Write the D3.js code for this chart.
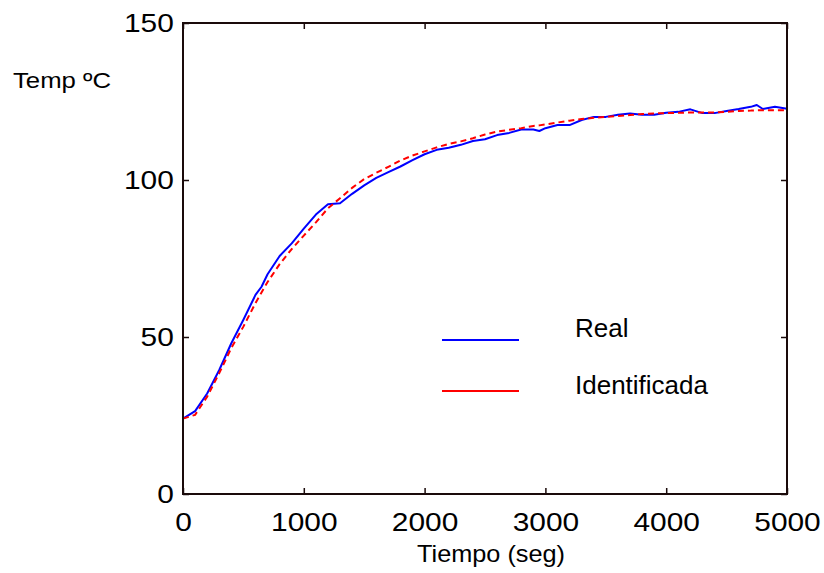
<!DOCTYPE html>
<html>
<head>
<meta charset="utf-8">
<script src="https://cdn.jsdelivr.net/npm/d3@7"></script>
<style>
  body { margin: 0; background: #fff; }
  .chart { width: 824px; height: 573px; }
  text { font-family: "Liberation Sans", Arial, Helvetica, sans-serif; fill: #000; }
</style>
</head>
<body>
<div class="chart"></div>
<script>
//Time samples (seg)
let tiempo = [0, 100, 200, 300, 400, 500, 600, 650, 700, 800, 900, 1000, 1100, 1200, 1300, 1400, 1500,
    1600, 1700, 1800, 1900, 2000, 2100, 2200, 2300, 2400, 2500, 2600, 2700, 2800, 2900, 2950,
    3000, 3100, 3200, 3300, 3400, 3500, 3600, 3700, 3800, 3900, 4000, 4100, 4200, 4300, 4400,
    4500, 4600, 4700, 4750, 4800, 4900, 5000];

//Measured temperature (blue)
let real = [24, 26.4, 32, 39.5, 48, 55.5, 63.4, 66, 70, 75.8, 79.8, 84.5, 89, 92.3, 92.6, 95.6, 98.3,
    100.7, 102.5, 104.3, 106.3, 108.2, 109.6, 110.3, 111.2, 112.4, 113, 114.3, 115, 116.1, 116.1, 115.6,
    116.5, 117.5, 117.5, 119.1, 120.1, 120.1, 120.8, 121.2, 120.8, 120.8, 121.4, 121.7, 122.5, 121.3, 121.3,
    122, 122.6, 123.3, 123.9, 122.6, 123.3, 122.7];

//Identified model response (red dashed)
let identificada = [24, 25.2, 31, 38.5, 46.5, 53.3, 60.8, 64.2, 67.5, 73.2, 78, 82.3, 86.5, 91, 94.2, 97.5, 100.3,
    102.3, 104.2, 106.2, 107.8, 109.1, 110.4, 111.5, 112.3, 113.3, 114.5, 115.4, 116, 116.5, 117.2, 117.4,
    117.7, 118.3, 118.9, 119.4, 119.8, 120.1, 120.4, 120.7, 121, 121.2, 121.3, 121.4, 121.5, 121.5, 121.5,
    121.7, 122, 122.1, 122.2, 122.2, 122.2, 122.2];

let xTicks = [0, 1000, 2000, 3000, 4000, 5000];
let yTicks = [0, 50, 100, 150];
let legendLabels = ["Real", "Identificada"];

let chart = {};

init();

function init() {
    appendElements();
    update();
}

function update() {
    setDimensions();
    setScales();
    updateElements();
}

function setDimensions() {
    chart.margin = { top: 23, right: 37, bottom: 79, left: 183 };
    chart.width = 824 - chart.margin.left - chart.margin.right;
    chart.height = 573 - chart.margin.top - chart.margin.bottom;
}

function setScales() {
    chart.x = d3.scaleLinear().domain([0, 5000]).range([0, chart.width]);
    chart.y = d3.scaleLinear().domain([0, 150]).range([chart.height, 0]);

    chart.line = d3.line()
        .x((d, i) => chart.x(tiempo[i]))
        .y(d => chart.y(d));
}

function appendElements() {
    chart.svg = d3.select(".chart").append("svg");
    chart.plot = chart.svg.append("g");

    chart.xAxis = chart.plot.append("g");
    chart.yAxis = chart.plot.append("g");
    chart.xTop = chart.plot.append("g");
    chart.yRight = chart.plot.append("g");

    chart.realLine = chart.plot.append("path").datum(real)
        .attr("fill", "none")
        .attr("stroke", "#0000ff")
        .attr("stroke-width", 2)
        .attr("stroke-linejoin", "round");

    chart.idLine = chart.plot.append("path").datum(identificada)
        .attr("fill", "none")
        .attr("stroke", "#ff0000")
        .attr("stroke-width", 2)
        .attr("stroke-dasharray", "6,4");

    chart.frame = chart.plot.append("rect")
        .attr("fill", "none")
        .attr("stroke", "#1a0a0a")
        .attr("stroke-width", 2);

    chart.legend = chart.svg.append("g");
    chart.yLabel = chart.svg.append("text").text("Temp ºC");
    chart.xLabel = chart.svg.append("text").text("Tiempo (seg)");
}

function styleAxis(g) {
    g.select(".domain").remove();
    g.selectAll(".tick line").attr("stroke", "#1a0a0a").attr("stroke-width", 1.5);
    g.selectAll("text").attr("font-size", 26)
        .attr("font-family", "'Liberation Sans', Arial, sans-serif")
        .attr("fill", "#000")
        .attr("transform", "scale(1.15,1)");
}

function updateElements() {
    chart.svg.attr("width", 824).attr("height", 573);
    chart.plot.attr("transform", `translate(${chart.margin.left},${chart.margin.top})`);

    let fmt = d3.format("d");

    chart.xAxis.attr("transform", `translate(0,${chart.height})`)
        .call(d3.axisBottom(chart.x).tickValues(xTicks).tickFormat(fmt)
            .tickSize(-6).tickSizeOuter(0).tickPadding(19))
        .call(styleAxis);

    chart.yAxis
        .call(d3.axisLeft(chart.y).tickValues(yTicks).tickFormat(fmt)
            .tickSize(-6).tickSizeOuter(0).tickPadding(8))
        .call(styleAxis);

    chart.xTop
        .call(d3.axisTop(chart.x).tickValues(xTicks).tickSize(-6).tickSizeOuter(0).tickFormat(""))
        .call(styleAxis);

    chart.yRight.attr("transform", `translate(${chart.width},0)`)
        .call(d3.axisRight(chart.y).tickValues(yTicks).tickSize(-6).tickSizeOuter(0).tickFormat(""))
        .call(styleAxis);

    chart.realLine.attr("d", chart.line);
    chart.idLine.attr("d", chart.line);

    chart.frame.attr("x", 0).attr("y", 0)
        .attr("width", chart.width).attr("height", chart.height);

    //legend, lines on the left and labels further right
    let colors = ["#0000ff", "#ff0000"];
    let items = chart.legend.selectAll("g").data(legendLabels).join("g")
        .attr("transform", (d, i) => `translate(442,${340 + i * 51})`);
    items.selectAll("line").data(d => [d]).join("line")
        .attr("x1", 0).attr("x2", 77).attr("y1", 0).attr("y2", 0)
        .attr("stroke", d => colors[legendLabels.indexOf(d)])
        .attr("stroke-width", 2);
    items.selectAll("text").data(d => [d]).join("text")
        .attr("x", 133).attr("y", d => legendLabels.indexOf(d) === 0 ? -3 : 3)
        .attr("font-size", 26)
        .text(d => d);

    chart.yLabel.attr("transform", "translate(13,88) scale(1.17,1)")
        .attr("font-size", 22);

    chart.xLabel.attr("transform", "translate(491,562) scale(1.1,1)")
        .attr("text-anchor", "middle")
        .attr("font-size", 23);
}
</script>
</body>
</html>
